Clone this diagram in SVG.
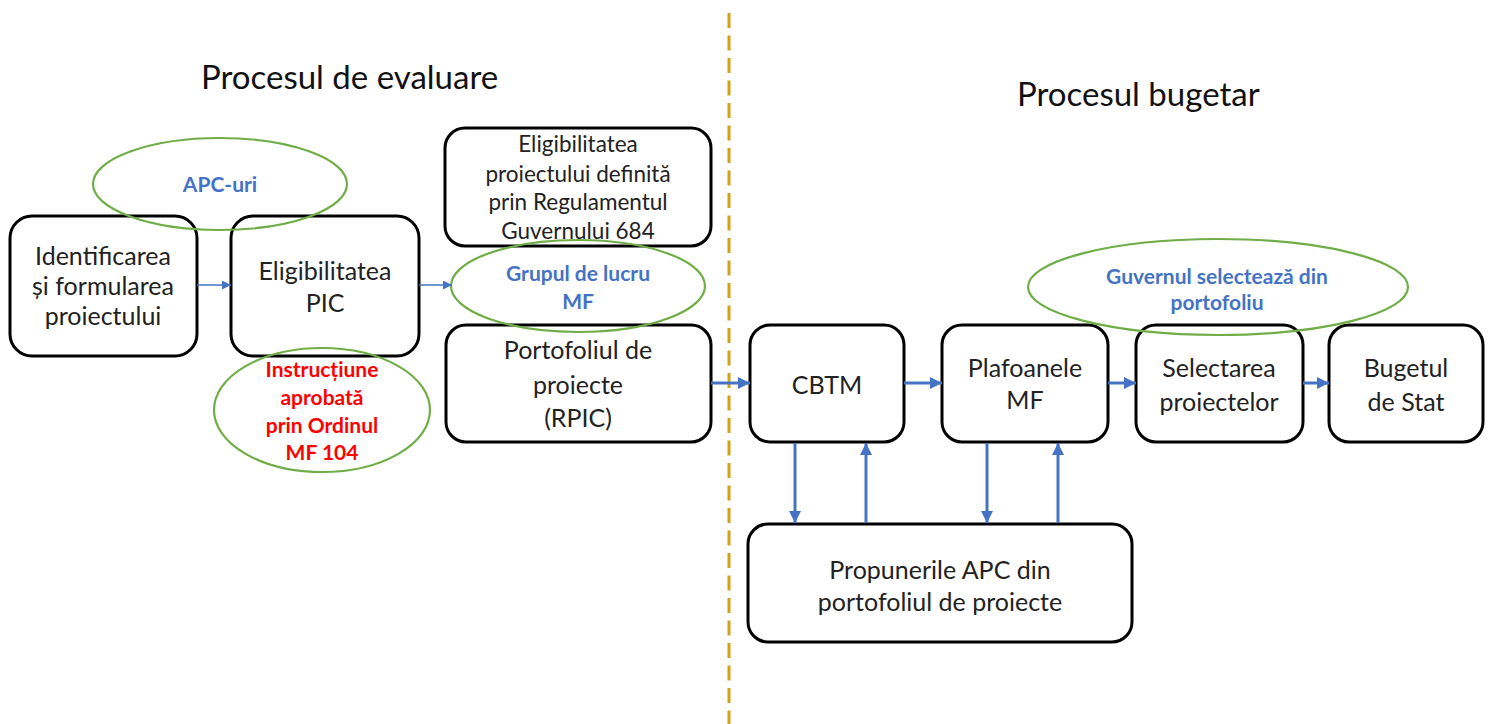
<svg xmlns="http://www.w3.org/2000/svg" width="1492" height="724" viewBox="0 0 1492 724">
<style>
.box{fill:#fff;stroke:#000;stroke-width:3}
.ell{fill:none;stroke:#70AD47;stroke-width:2.2}
.t{font-family:Lato,"Liberation Sans",sans-serif;font-size:25px;fill:#222;text-anchor:middle}
.ts{font-size:22.5px}
.title{font-family:Lato,"Liberation Sans",sans-serif;font-size:33px;fill:#111}
.b{font-family:Lato,"Liberation Sans",sans-serif;font-size:21px;font-weight:bold;fill:#4472C4;text-anchor:middle}
.r{font-family:Lato,"Liberation Sans",sans-serif;font-size:21px;font-weight:bold;fill:#FF0000;text-anchor:middle}
.thin{stroke:#4472C4;stroke-width:1.3;fill:none}
.thick{stroke:#4472C4;stroke-width:3;fill:none}
</style>
<defs>
<marker id="ah" markerUnits="userSpaceOnUse" markerWidth="12" markerHeight="12" refX="10" refY="5" orient="auto" viewBox="0 0 10 10">
<path d="M0,0 L10,5 L0,10 z" fill="#4472C4"/>
</marker>
<marker id="ahs" markerUnits="userSpaceOnUse" markerWidth="9" markerHeight="9" refX="10" refY="5" orient="auto" viewBox="0 0 10 10">
<path d="M0,0 L10,5 L0,10 z" fill="#4472C4"/>
</marker>
</defs>
<rect width="1492" height="724" fill="#fff"/>
<line x1="729" y1="13" x2="729" y2="724" stroke="#D4A017" stroke-width="3" stroke-dasharray="15 7.5"/>
<text class="title" x="201" y="89">Procesul de evaluare</text>
<text class="title" x="1017" y="106">Procesul bugetar</text>

<g id="n-identificarea">
<rect class="box" x="10" y="216" width="187" height="140" rx="22"/>
<text class="t" x="103" y="265">Identificarea</text>
<text class="t" x="103" y="295">și formularea</text>
<text class="t" x="103" y="325">proiectului</text>
</g>
<g id="n-pic">
<rect class="box" x="231" y="216" width="188" height="140" rx="22"/>
<text class="t" x="325" y="280">Eligibilitatea</text>
<text class="t" x="325" y="312">PIC</text>
</g>
<g id="n-apc">
<ellipse class="ell" cx="220" cy="184" rx="127" ry="46"/>
<text class="b" x="220" y="192">APC-uri</text>
</g>
<g id="n-instructiune">
<ellipse class="ell" cx="322" cy="410" rx="108" ry="62"/>
<text class="r" x="322" y="377">Instrucțiune</text>
<text class="r" x="322" y="405">aprobată</text>
<text class="r" x="322" y="433">prin Ordinul</text>
<text class="r" x="322" y="460">MF 104</text>
</g>
<g id="n-eligibilitatea-reg">
<rect class="box" x="445" y="128" width="266" height="118" rx="20"/>
<text class="t ts" x="578" y="152">Eligibilitatea</text>
<text class="t ts" x="578" y="182">proiectului definită</text>
<text class="t ts" x="578" y="210">prin Regulamentul</text>
<text class="t ts" x="578" y="239">Guvernului 684</text>
</g>
<g id="n-portofoliu">
<rect class="box" x="446" y="325" width="265" height="117" rx="20"/>
<text class="t" x="578" y="359">Portofoliul de</text>
<text class="t" x="578" y="394">proiecte</text>
<text class="t" x="578" y="427">(RPIC)</text>
</g>
<g id="n-grupul">
<ellipse class="ell" cx="578" cy="286" rx="127" ry="46"/>
<text class="b" x="578" y="281">Grupul de lucru</text>
<text class="b" x="578" y="309">MF</text>
</g>
<g id="n-cbtm">
<rect class="box" x="750" y="325" width="154" height="117" rx="20"/>
<text class="t" x="827" y="394">CBTM</text>
</g>
<g id="n-plafoanele">
<rect class="box" x="942" y="325" width="166" height="117" rx="20"/>
<text class="t" x="1025" y="377">Plafoanele</text>
<text class="t" x="1025" y="409">MF</text>
</g>
<g id="n-selectarea">
<rect class="box" x="1136" y="325" width="167" height="117" rx="20"/>
<text class="t" x="1219" y="377">Selectarea</text>
<text class="t" x="1219" y="411">proiectelor</text>
</g>
<g id="n-bugetul">
<rect class="box" x="1329" y="325" width="154" height="117" rx="20"/>
<text class="t" x="1406" y="377">Bugetul</text>
<text class="t" x="1406" y="411">de Stat</text>
</g>
<g id="n-guvernul">
<ellipse class="ell" cx="1218" cy="287" rx="190" ry="48"/>
<text class="b" x="1217" y="284">Guvernul selectează din</text>
<text class="b" x="1217" y="310">portofoliu</text>
</g>
<g id="n-propunerile">
<rect class="box" x="748" y="524" width="384" height="118" rx="20"/>
<text class="t" x="940" y="579">Propunerile APC din</text>
<text class="t" x="940" y="611">portofoliul de proiecte</text>
</g>

<g id="connectors">
<line class="thin" x1="197" y1="285" x2="231" y2="285" marker-end="url(#ahs)"/>
<line class="thin" x1="419" y1="285" x2="452" y2="285" marker-end="url(#ahs)"/>
<line class="thick" x1="711" y1="383" x2="750" y2="383" marker-end="url(#ah)"/>
<line class="thick" x1="904" y1="383" x2="942" y2="383" marker-end="url(#ah)"/>
<line class="thick" x1="1108" y1="383" x2="1136" y2="383" marker-end="url(#ah)"/>
<line class="thick" x1="1303" y1="383" x2="1329" y2="383" marker-end="url(#ah)"/>
<line class="thick" x1="795" y1="443" x2="795" y2="523" marker-end="url(#ah)"/>
<line class="thick" x1="866" y1="523" x2="866" y2="443" marker-end="url(#ah)"/>
<line class="thick" x1="987" y1="443" x2="987" y2="523" marker-end="url(#ah)"/>
<line class="thick" x1="1058" y1="523" x2="1058" y2="443" marker-end="url(#ah)"/>
</g>
</svg>
